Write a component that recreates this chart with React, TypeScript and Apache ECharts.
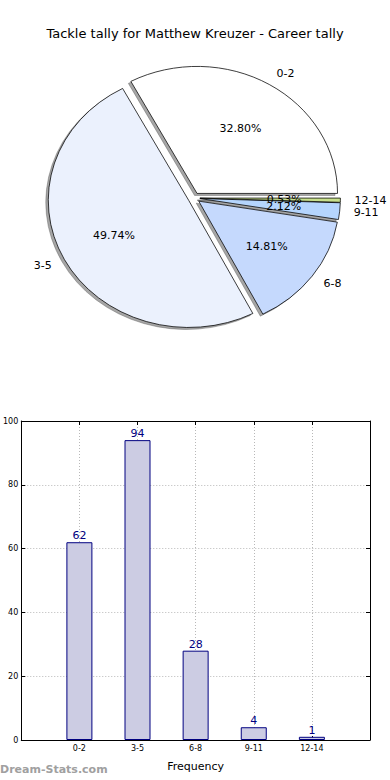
import React, { useEffect, useRef } from "react";
import * as echarts from "echarts";

const categories = ["0-2", "3-5", "6-8", "9-11", "12-14"];
const tallies = [62, 94, 28, 4, 1];
const pieColors = ["#ffffff", "#ebf1fd", "#c5d9fd", "#b5d5fd", "#c8e08c"];
const titleText = "Tackle tally for Matthew Kreuzer - Career tally";

const FONT = "DejaVu Sans";

export default function App() {
  const ref = useRef<HTMLDivElement>(null);

  useEffect(() => {
    if (!ref.current) return;
    const chart = echarts.init(ref.current, undefined, { renderer: "svg" });

    const total = tallies.reduce((a, b) => a + b, 0);
    const cum: number[] = [];
    let acc = 0;
    tallies.forEach((v) => {
      cum.push(acc);
      acc += v;
    });

    // pie geometry (matplotlib-like, non-equal aspect)
    const CX = 194;
    const CY = 198;
    const RX = 140.5;
    const RY = 127;
    const EXPLODE = 0.042;
    const SH_X = -2.5;
    const SH_Y = 2;

    const renderPie = (params: any, api: any) => {
      const i = params.dataIndex;
      const v = api.value(0);
      const a1 = (cum[i] / total) * Math.PI * 2;
      const a2 = ((cum[i] + v) / total) * Math.PI * 2;
      const mid = (a1 + a2) / 2;
      const cosM = Math.cos(mid);
      const sinM = Math.sin(mid);
      const shape = {
        cx: EXPLODE * RX * cosM,
        cy: -EXPLODE * RX * sinM,
        r: RX,
        r0: 0,
        startAngle: -a2,
        endAngle: -a1,
        clockwise: true,
      };
      const sy = RY / RX;
      const pctR = EXPLODE + 0.6;
      const labR = EXPLODE + 1.1;
      return {
        type: "group",
        children: [
          {
            type: "sector",
            x: CX + SH_X,
            y: CY + SH_Y,
            scaleX: 1,
            scaleY: sy,
            z2: 0,
            shape,
            style: {
              fill: "rgba(77,77,77,0.5)",
              stroke: "rgba(77,77,77,0.5)",
              lineWidth: 0.8,
              strokeNoScale: true,
            },
          },
          {
            type: "sector",
            x: CX,
            y: CY,
            scaleX: 1,
            scaleY: sy,
            z2: 5,
            shape,
            style: {
              fill: pieColors[i],
              stroke: "#000000",
              lineWidth: 0.8,
              strokeNoScale: true,
            },
          },
          {
            type: "text",
            x: CX + pctR * RX * cosM,
            y: CY - pctR * RY * sinM,
            z2: 10,
            style: {
              text: ((v / total) * 100).toFixed(2) + "%",
              fill: "#000",
              fontSize: 11,
              fontFamily: FONT,
              align: "center",
              verticalAlign: "middle",
            },
          },
          {
            type: "text",
            x: CX + labR * RX * cosM,
            y: CY - labR * RY * sinM,
            z2: 10,
            style: {
              text: categories[i],
              fill: "#000",
              fontSize: 11,
              fontFamily: FONT,
              align: cosM > 0 ? "left" : "right",
              verticalAlign: "middle",
            },
          },
        ],
      };
    };

    const frameLine = { show: true, onZero: false, lineStyle: { color: "#000", width: 1 } };
    const tickIn = { show: true, inside: true, length: 4, lineStyle: { color: "#000", width: 1 } };
    const dotted = { show: true, lineStyle: { color: "#b8b8b8", type: [1, 2] as any, width: 1 } };

    chart.setOption({
      animation: false,
      textStyle: { fontFamily: FONT },
      title: {
        text: titleText,
        left: "center",
        top: 22,
        textStyle: { fontSize: 13, fontWeight: "normal", color: "#000", fontFamily: FONT },
      },
      grid: { left: 19, right: 20, top: 421, bottom: 40, containLabel: false },
      xAxis: [
        {
          type: "value",
          min: -1,
          max: 5,
          interval: 1,
          position: "bottom",
          axisLine: frameLine,
          axisTick: tickIn,
          splitLine: dotted,
          axisLabel: {
            fontSize: 8,
            color: "#000",
            margin: 4,
            fontFamily: FONT,
            formatter: (val: number) => categories[val] ?? "",
          },
          name: "Frequency",
          nameLocation: "middle",
          nameGap: 21,
          nameTextStyle: { fontSize: 11, color: "#000", fontFamily: FONT },
        },
        {
          type: "value",
          min: -1,
          max: 5,
          interval: 1,
          position: "top",
          axisLine: frameLine,
          axisTick: tickIn,
          splitLine: { show: false },
          axisLabel: { show: false },
        },
      ],
      yAxis: [
        {
          type: "value",
          min: 0,
          max: 100,
          interval: 20,
          position: "left",
          axisLine: frameLine,
          axisTick: tickIn,
          splitLine: dotted,
          axisLabel: { fontSize: 8, color: "#000", margin: 3, fontFamily: FONT },
        },
        {
          type: "value",
          min: 0,
          max: 100,
          interval: 20,
          position: "right",
          axisLine: frameLine,
          axisTick: tickIn,
          splitLine: { show: false },
          axisLabel: { show: false },
        },
      ],
      graphic: [
        {
          type: "text",
          left: 0,
          top: 764,
          style: {
            text: "Dream-Stats.com",
            fill: "#a0a0a0",
            fontSize: 11,
            fontWeight: "bold",
            fontFamily: FONT,
          },
        },
      ],
      series: [
        {
          type: "custom",
          coordinateSystem: "none",
          renderItem: renderPie,
          data: tallies,
          silent: true,
        },
        {
          type: "bar",
          xAxisIndex: 0,
          yAxisIndex: 0,
          barWidth: 26,
          data: tallies.map((v, i) => [i, v]),
          itemStyle: { color: "#cccce3", borderColor: "#000080", borderWidth: 1 },
          label: {
            show: true,
            position: "top",
            distance: 1,
            color: "#000080",
            fontSize: 11,
            fontFamily: FONT,
            formatter: (p: any) => String(p.value[1]),
          },
          silent: true,
        },
      ],
    });

    return () => chart.dispose();
  }, []);

  return (
    <div
      ref={ref}
      style={{ position: "absolute", left: 0, top: 0, width: 390, height: 780, background: "#fff" }}
    />
  );
}
